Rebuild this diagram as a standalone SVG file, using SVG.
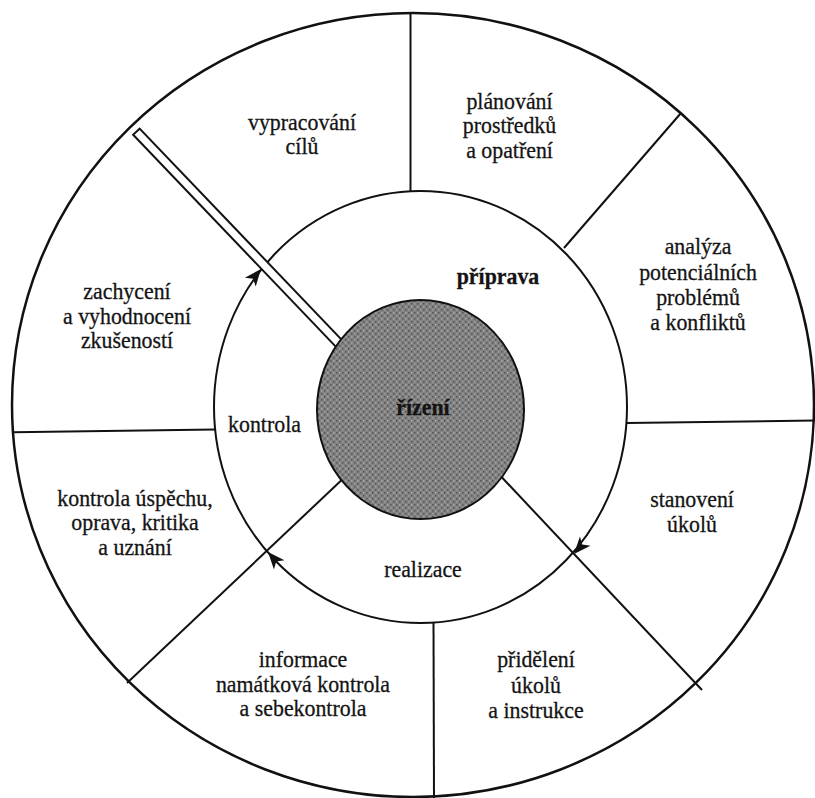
<svg xmlns="http://www.w3.org/2000/svg" width="815" height="798" viewBox="0 0 815 798">
<defs>
<style>
.ln{stroke:#111;stroke-width:2;fill:none}
.t{font-family:"Liberation Serif","Times New Roman",serif;font-size:23.5px;fill:#141414;stroke:#141414;stroke-width:0.3;text-anchor:middle}
.b{font-weight:bold}
</style>
<pattern id="dots" width="6" height="6" patternUnits="userSpaceOnUse">
<rect width="6" height="6" fill="#828282"/>
<rect x="0" y="0" width="1.5" height="1.5" fill="#555555"/>
<rect x="3" y="3" width="1.5" height="1.5" fill="#555555"/>
<rect x="3" y="0" width="1.5" height="1.5" fill="#a8a8a8"/>
<rect x="0" y="3" width="1.5" height="1.5" fill="#9c9c9c"/>
</pattern>
<path id="ah" d="M0,0 L-17,-7 L-12.5,0 L-17,7 Z" fill="#111"/>
</defs>
<rect width="815" height="798" fill="#fff"/>
<g id="outer-ring"><ellipse cx="413" cy="405" rx="401" ry="392" fill="#fff" stroke="#111" stroke-width="2.5"/></g>
<g id="cycle-ring"><ellipse cx="420.5" cy="407" rx="206.5" ry="216" fill="#fff" stroke="#111" stroke-width="2"/></g>
<g id="connectors">
<line class="ln" x1="410.5" y1="14" x2="410.5" y2="192"/>
<line class="ln" x1="681" y1="113" x2="564" y2="248"/>
<line class="ln" x1="627" y1="423" x2="815" y2="420.5"/>
<line class="ln" x1="433.5" y1="622" x2="434" y2="798"/>
<line class="ln" x1="13" y1="432.3" x2="215" y2="429.5"/>
<line class="ln" x1="702" y1="690" x2="495" y2="470"/>
<line class="ln" x1="127" y1="683" x2="348" y2="474"/>
<line x1="135.7" y1="131" x2="350" y2="355" stroke="#111" stroke-width="11"/>
<line x1="137.1" y1="132.4" x2="350" y2="355" stroke="#fff" stroke-width="7"/>
<use href="#ah" transform="translate(261,269) rotate(-50.9)"/>
<use href="#ah" transform="translate(574,554) rotate(131.2)"/>
<use href="#ah" transform="translate(268,552) rotate(-131.2)"/>
</g>
<g id="n-rizeni">
<ellipse cx="420.5" cy="409.5" rx="103.5" ry="109.5" fill="url(#dots)" stroke="#111" stroke-width="2"/>
<text class="t b" transform="translate(423,0) scale(0.93,1)"><tspan x="0" y="415">řízení</tspan></text>
</g>
<g id="n-vypracovani"><text class="t" transform="translate(302,0) scale(0.93,1)"><tspan x="0" y="130">vypracování</tspan><tspan x="0" y="154">cílů</tspan></text></g>
<g id="n-planovani"><text class="t" transform="translate(509.5,0) scale(0.93,1)"><tspan x="0" y="109">plánování</tspan><tspan x="0" y="133">prostředků</tspan><tspan x="0" y="158">a opatření</tspan></text></g>
<g id="n-analyza"><text class="t" transform="translate(698,0) scale(0.93,1)"><tspan x="0" y="254">analýza</tspan><tspan x="0" y="280">potenciálních</tspan><tspan x="0" y="305">problémů</tspan><tspan x="0" y="330">a konfliktů</tspan></text></g>
<g id="n-priprava"><text class="t b" transform="translate(498,0) scale(0.93,1)"><tspan x="0" y="284">příprava</tspan></text></g>
<g id="n-zachyceni"><text class="t" transform="translate(127,0) scale(0.93,1)"><tspan x="0" y="299">zachycení</tspan><tspan x="0" y="324">a vyhodnocení</tspan><tspan x="0" y="348">zkušeností</tspan></text></g>
<g id="n-kontrola"><text class="t" transform="translate(264.5,0) scale(0.93,1)"><tspan x="0" y="432">kontrola</tspan></text></g>
<g id="n-stanoveni"><text class="t" transform="translate(692,0) scale(0.93,1)"><tspan x="0" y="507">stanovení</tspan><tspan x="0" y="532">úkolů</tspan></text></g>
<g id="n-realizace"><text class="t" transform="translate(423,0) scale(0.93,1)"><tspan x="0" y="577">realizace</tspan></text></g>
<g id="n-kontrola-uspechu"><text class="t" transform="translate(135,0) scale(0.93,1)"><tspan x="0" y="506">kontrola úspěchu,</tspan><tspan x="0" y="530">oprava, kritika</tspan><tspan x="0" y="555">a uznání</tspan></text></g>
<g id="n-informace"><text class="t" transform="translate(303,0) scale(0.93,1)"><tspan x="0" y="667">informace</tspan><tspan x="0" y="692">namátková kontrola</tspan><tspan x="0" y="716">a sebekontrola</tspan></text></g>
<g id="n-prideleni"><text class="t" transform="translate(536,0) scale(0.93,1)"><tspan x="0" y="667">přidělení</tspan><tspan x="0" y="693">úkolů</tspan><tspan x="0" y="718">a instrukce</tspan></text></g>
</svg>
